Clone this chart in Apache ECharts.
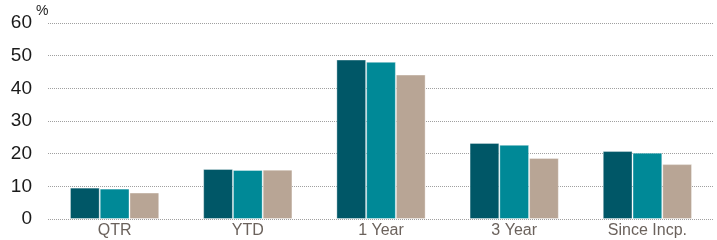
<!DOCTYPE html>
<html>
<head>
<meta charset="utf-8">
<script src="https://cdn.jsdelivr.net/npm/echarts@6/dist/echarts.min.js"></script>
<style>
html, body { margin: 0; padding: 0; background: #fff; }
#chart { width: 717px; height: 240px; }
</style>
</head>
<body>
<div id="chart"></div>
<script>
var categories = ['QTR', 'YTD', '1 Year', '3 Year', 'Since Incp.']
var seriesA = [9.6, 15.3, 48.8, 23.3, 20.8]
var seriesB = [9.3, 15.0, 48.1, 22.7, 20.3]
var seriesC = [8.1, 15.1, 44.2, 18.7, 16.8]
var yTicks = [0, 10, 20, 30, 40, 50, 60]
var unitLabel = '%'

;(function(){
    var myChart = echarts.init(document.getElementById('chart'));
    var colors = ['#005767', '#008997', '#b8a595']

    function bar(name, data, i) {
        return {
            name: name,
            type: 'bar',
            data: data,
            barGap: 0,
            barCategoryGap: '33%',
            itemStyle: { color: colors[i], borderColor: 'rgba(255,255,255,0.35)', borderWidth: 1 },
            silent: true
        }
    }

    option = {
        animation: false,
        textStyle: { fontFamily: 'Liberation Sans, Arial, sans-serif' },
        grid: { left: 48, right: 3, top: 23, bottom: 21 },
        graphic: [{
            type: 'text',
            left: 36,
            top: 4,
            style: { text: unitLabel, fill: '#222', font: '14px Liberation Sans, Arial, sans-serif' }
        }],
        xAxis: {
            type: 'category',
            data: categories,
            axisLine: { show: false },
            axisTick: { show: false },
            axisLabel: { color: '#6b625c', fontSize: 16, margin: 4 }
        },
        yAxis: {
            type: 'value',
            min: yTicks[0],
            max: yTicks[yTicks.length - 1],
            interval: 10,
            axisLine: { show: false },
            axisTick: { show: false },
            axisLabel: { color: '#1a1a1a', fontSize: 19, margin: 16 },
            splitLine: { lineStyle: { color: '#a0a0a0', type: [1, 1], width: 1 } }
        },
        series: [
            bar('A', seriesA, 0),
            bar('B', seriesB, 1),
            bar('C', seriesC, 2)
        ]
    };

    myChart.setOption(option)
})()
</script>
</body>
</html>
